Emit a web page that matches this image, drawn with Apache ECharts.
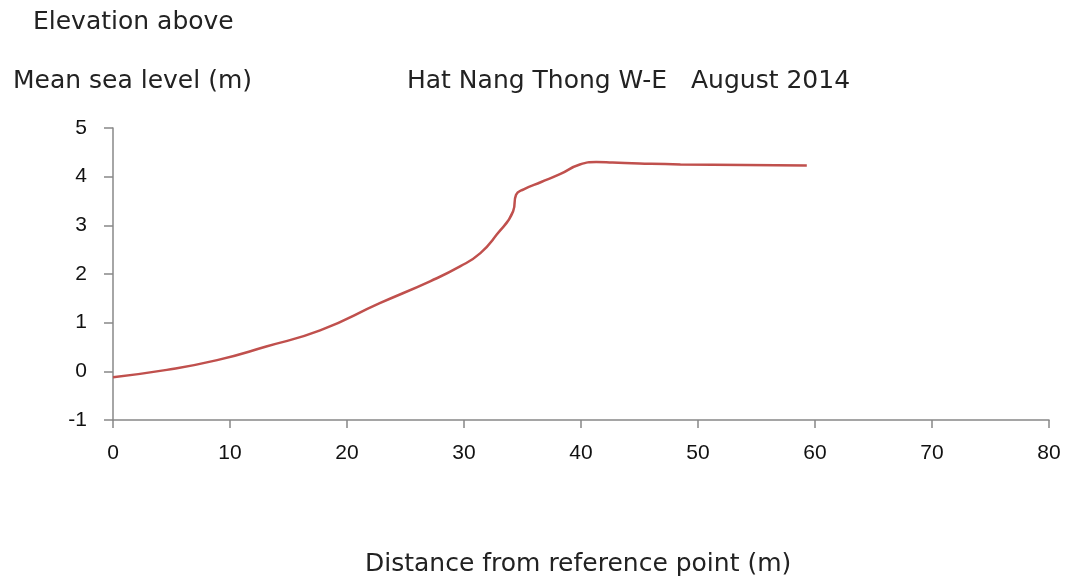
<!DOCTYPE html>
<html><head><meta charset="utf-8">
<script src="https://cdn.jsdelivr.net/npm/echarts@6/dist/echarts.min.js"></script>
<style>html,body{margin:0;padding:0;background:#fff}#c{width:1073px;height:580px}</style>
</head><body><div id="c"></div>
<script>
const distance = [0, 4.6, 8.9, 13.1, 17.7, 22.8, 27.1, 29.7, 31.4, 32.8, 34.2, 34.45, 35.1, 36.6, 38.2, 39.9, 41.3, 42.7, 45, 48.5, 54, 59.3];
const elevation = [-0.12, 0.03, 0.23, 0.51, 0.84, 1.40, 1.85, 2.16, 2.43, 2.81, 3.29, 3.63, 3.74, 3.89, 4.05, 4.25, 4.30, 4.29, 4.27, 4.25, 4.24, 4.23];
const yTicks = [-1, 0, 1, 2, 3, 4, 5];
const xTicks = [0, 10, 20, 30, 40, 50, 60, 70, 80];

const chart = echarts.init(document.getElementById('c'), null, {renderer: 'canvas'});
const font = 'Liberation Sans';
const tfont = '25px "DejaVu Sans"';
chart.setOption({
  animation: false,
  graphic: [
    {type: 'text', x: 33, y: 22, style: {text: 'Elevation above', font: tfont, fill: '#222', verticalAlign: 'middle'}},
    {type: 'text', x: 13, y: 81, style: {text: 'Mean sea level (m)', font: tfont, fill: '#222', verticalAlign: 'middle'}},
    {type: 'text', x: 407, y: 81, style: {text: 'Hat Nang Thong W-E   August 2014', font: tfont, fill: '#222', verticalAlign: 'middle'}},
    {type: 'text', x: 365, y: 564, style: {text: 'Distance from reference point (m)', font: tfont, fill: '#222', verticalAlign: 'middle'}}
  ],
  grid: {left: 113, right: 24, top: 128, bottom: 160, containLabel: false},
  xAxis: {
    type: 'value', min: xTicks[0], max: xTicks[xTicks.length - 1], interval: 10,
    axisLine: {show: true, onZero: false, lineStyle: {color: '#888', width: 1.5}},
    axisTick: {show: true, length: 8, lineStyle: {color: '#888', width: 1.5}},
    axisLabel: {color: '#111', fontSize: 21, fontFamily: font, margin: 23},
    splitLine: {show: false}
  },
  yAxis: {
    type: 'value', min: yTicks[0], max: yTicks[yTicks.length - 1], interval: 1,
    axisLine: {show: true, onZero: false, lineStyle: {color: '#888', width: 1.5}},
    axisTick: {show: true, length: 9, lineStyle: {color: '#888', width: 1.5}},
    axisLabel: {color: '#111', fontSize: 21, fontFamily: font, margin: 26},
    splitLine: {show: false}
  },
  series: [{
    type: 'line',
    data: distance.map((d, i) => [d, elevation[i]]),
    smooth: 0.5,
    showSymbol: false,
    lineStyle: {color: '#C0504D', width: 2.5}
  }]
});
</script></body></html>
